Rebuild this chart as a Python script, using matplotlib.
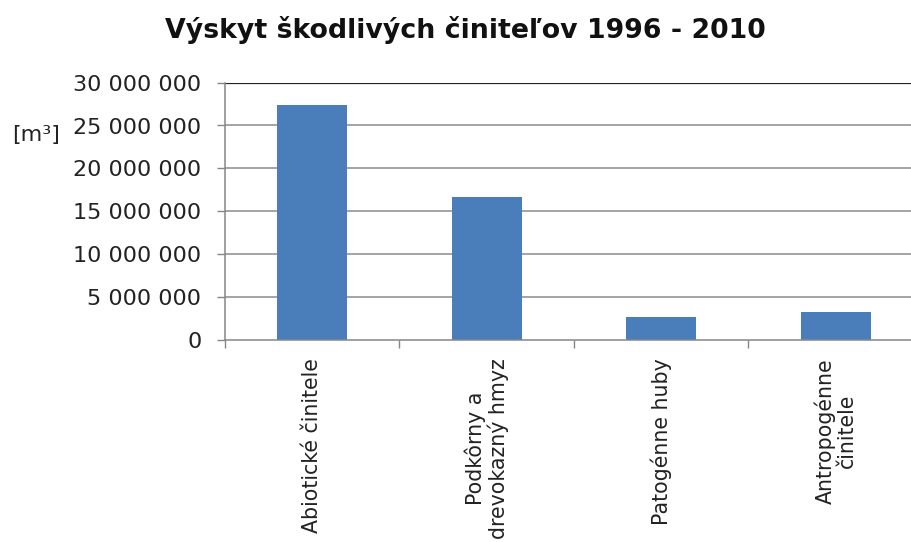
import matplotlib
matplotlib.use("Agg")
import matplotlib.pyplot as plt
from matplotlib.ticker import FuncFormatter, FixedLocator

categories = ["Abiotické činitele", "Podkôrny a\ndrevokazný hmyz",
              "Patogénne huby", "Antropogénne\nčinitele"]
volumes = [27_400_000, 16_700_000, 2_650_000, 3_250_000]
y_ticks = [0, 5_000_000, 10_000_000, 15_000_000, 20_000_000, 25_000_000, 30_000_000]

title = "Výskyt škodlivých činiteľov 1996 - 2010"
unit_label = "[m³]"

bar_color = "#4A7EBB"
axis_color = "#868686"
grid_color = "#8C8C8C"

plt.rcParams["font.family"] = ["DejaVu Sans"]

W, H = 912, 542
fig = plt.figure(figsize=(W / 100, H / 100), dpi=100)
left, right, bottom, top = 225, 923, 339.5, 82.7
ax = fig.add_axes([left / W, (H - bottom) / H, (right - left) / W, (bottom - top) / H])

x = range(len(categories))
ax.bar(x, volumes, width=0.4, color=bar_color, zorder=3)

ax.set_xlim(-0.5, len(categories) - 0.5)
ax.set_ylim(y_ticks[0], y_ticks[-1])

# horizontal gridlines, the top one drawn darker
ax.set_yticks(y_ticks)
for v in y_ticks[1:-1]:
    ax.axhline(v, color=grid_color, lw=1.1, zorder=1)
ax.axhline(y_ticks[-1], color="#222222", lw=1.6, zorder=1)

ax.yaxis.set_major_formatter(FuncFormatter(lambda v, _: f"{int(v):,}".replace(",", " ")))
ax.tick_params(axis="y", direction="out", length=6, width=1, color=axis_color,
               labelsize=16, labelcolor="#222222", pad=11)

# category labels, with tick marks between categories
ax.set_xticks(list(x))
ax.set_xticklabels(categories, rotation=90, ha="center", va="top",
                   multialignment="center", fontsize=14.8, color="#222222",
                   linespacing=1.1)
ax.tick_params(axis="x", which="major", length=0, pad=13.5)
ax.xaxis.set_minor_locator(FixedLocator([i - 0.5 for i in range(len(categories) + 1)]))
ax.tick_params(axis="x", which="minor", direction="out", length=6, width=1, color=axis_color)

for side in ("top", "right"):
    ax.spines[side].set_visible(False)
for side in ("left", "bottom"):
    ax.spines[side].set_color(axis_color)
    ax.spines[side].set_linewidth(1.1)
    ax.spines[side].set_zorder(4)

fig.text(36 / W, (H - 135) / H, unit_label, ha="center", va="center",
         fontsize=16, color="#222222")
fig.text(465 / W, (H - 30) / H, title, ha="center", va="center",
         fontsize=19.3, fontweight="bold", color="#111111")

fig.savefig("out.png", dpi=100)
